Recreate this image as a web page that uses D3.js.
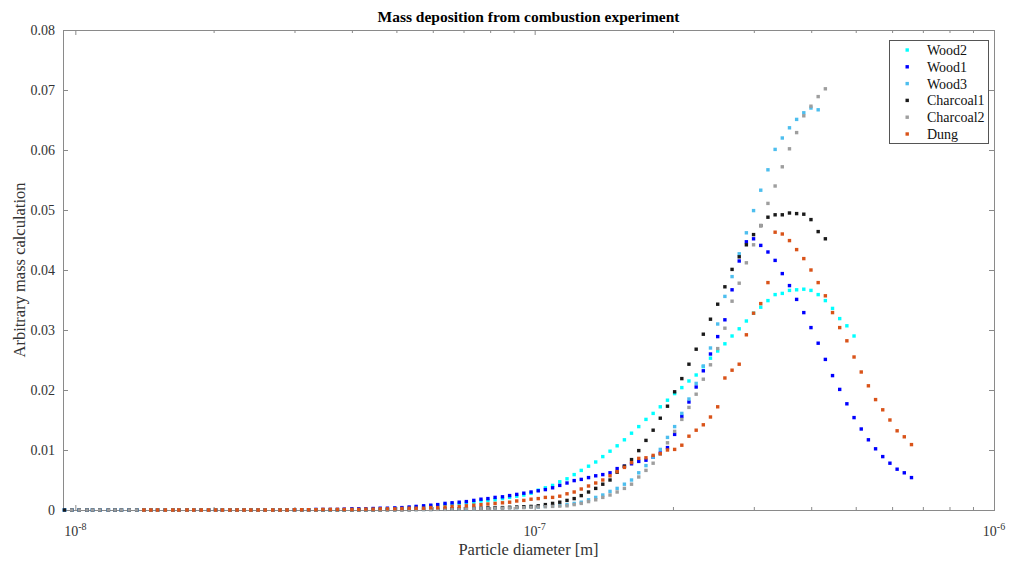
<!DOCTYPE html>
<html>
<head>
<meta charset="utf-8">
<script src="https://cdn.jsdelivr.net/npm/d3@7/dist/d3.min.js"></script>
<style>
  body { margin: 0; background: #fff; }
  svg text { font-family: "Liberation Serif", "Times New Roman", serif; }
</style>
</head>
<body>
<div id="chart"></div>
<script>
// bin mid diameters [nm], 64 channels per decade
const diameters = [
  9.47, 9.82, 10.2, 10.6, 10.9, 11.3, 11.8, 12.2, 12.6, 13.1,
  13.6, 14.1, 14.6, 15.1, 15.7, 16.3, 16.8, 17.5, 18.1, 18.8,
  19.5, 20.2, 20.9, 21.7, 22.5, 23.3, 24.1, 25.0, 25.9, 26.9,
  27.9, 28.9, 30.0, 31.1, 32.2, 33.4, 34.6, 35.9, 37.2, 38.5,
  40.0, 41.4, 42.9, 44.5, 46.1, 47.8, 49.6, 51.4, 53.3, 55.2,
  57.3, 59.4, 61.5, 63.8, 66.1, 68.5, 71.0, 73.7, 76.4, 79.1,
  82.0, 85.1, 88.2, 91.4, 94.7, 98.2, 101.8, 105.5, 109.4, 113.4,
  117.6, 121.9, 126.3, 131.0, 135.8, 140.7, 145.9, 151.2, 156.8, 162.5,
  168.5, 174.7, 181.1, 187.7, 194.6, 201.7, 209.1, 216.7, 224.7, 232.9,
  241.4, 250.3, 259.5, 269.0, 278.8, 289.0, 299.6, 310.6, 322.0, 333.8,
  346.0, 358.7, 371.8, 385.4, 399.5, 414.2, 429.4, 445.1, 461.4, 478.3,
  495.8, 514.0, 532.8, 552.3, 572.5, 593.5, 615.3, 637.8, 661.2
];

const wood2 = [
  0, 0, 0, 0, 0, 0, 0, 0, 0, 0,
  0, 0, 0, 0, 0, 0, 0, 0, 0, 0,
  0, 0, 0, 0, 0, 0, 0, 0, 0, 0,
  0, 0, 0, 0, 0, 0, 0, 0, 0, 0,
  0.0001, 0.0001, 0.0001, 0.00015, 0.0002, 0.0002, 0.00025, 0.0003, 0.0004, 0.0005,
  0.0006, 0.0007, 0.0008, 0.0009, 0.001, 0.0011, 0.0012, 0.0013, 0.0015, 0.0016,
  0.0017, 0.0019, 0.0021, 0.0023, 0.0025, 0.0028, 0.0033, 0.0037, 0.0041, 0.0047,
  0.0052, 0.0059, 0.0066, 0.0073, 0.008, 0.0089, 0.0098, 0.0107, 0.0117, 0.0128,
  0.0139, 0.0151, 0.0161, 0.0172, 0.0183, 0.0194, 0.0204, 0.0215, 0.0225, 0.0239,
  0.0253, 0.0265, 0.0277, 0.029, 0.0302, 0.0315, 0.0328, 0.0338, 0.0349, 0.0359,
  0.0361, 0.0366, 0.0367, 0.0368, 0.0366, 0.0359, 0.0349, 0.0336, 0.0319, 0.0307,
  0.029, null, null, null, null, null, null, null, null
];

const wood1 = [
  0, 0, 0, 0, 0, 0, 0, 0, 0, 0,
  0, 0, 0, 0, 0, 0, 0, 0, 0, 0,
  0, 0, 0, 0, 0, 0, 0, 0, 0, 0,
  0, 0, 0.00005, 0.00005, 0.00005, 0.0001, 0.0001, 0.0001, 0.0001, 0.00015,
  0.0002, 0.0002, 0.0002, 0.00025, 0.0003, 0.0003, 0.00035, 0.0004, 0.0005, 0.0006,
  0.0007, 0.0008, 0.0009, 0.0011, 0.0012, 0.0013, 0.0014, 0.0016, 0.0018, 0.0019,
  0.0021, 0.0022, 0.0024, 0.0026, 0.0028, 0.003, 0.0032, 0.0034, 0.0037, 0.0041,
  0.0045, 0.0049, 0.0051, 0.0054, 0.0057, 0.0059, 0.0062, 0.0069, 0.0073, 0.0077,
  0.0081, 0.0083, 0.0088, 0.0095, 0.0104, 0.0126, 0.0156, 0.018, 0.0205, 0.0232,
  0.026, 0.0289, 0.0317, 0.0367, 0.0415, 0.0447, 0.0452, 0.0441, 0.043, 0.0416,
  0.0394, 0.0374, 0.0351, 0.0329, 0.0304, 0.0278, 0.0251, 0.0224, 0.0201, 0.0177,
  0.0154, 0.0135, 0.0117, 0.0102, 0.0089, 0.0078, 0.0068, 0.0062, 0.0054
];

const wood3 = [
  0, 0, 0, 0, 0, 0, 0, 0, 0, 0,
  0, 0, 0, 0, 0, 0, 0, 0, 0, 0,
  0, 0, 0, 0, 0, 0, 0, 0, 0, 0,
  0, 0, 0, 0, 0, 0, 0, 0, 0, 0,
  0, 0, 0, 0, 0.00005, 0.00005, 0.00005, 0.0001, 0.0001, 0.0001,
  0.0001, 0.0001, 0.00015, 0.00015, 0.0002, 0.0002, 0.0002, 0.00025, 0.0003, 0.0003,
  0.0003, 0.00035, 0.0004, 0.0004, 0.00045, 0.0005, 0.0005, 0.0006, 0.0007, 0.0008,
  0.0009, 0.0011, 0.0013, 0.0017, 0.0021, 0.0025, 0.0031, 0.0036, 0.0043, 0.005,
  0.0062, 0.0074, 0.0088, 0.0101, 0.0121, 0.0139, 0.0161, 0.0185, 0.0211, 0.024,
  0.027, 0.031, 0.0356, 0.0389, 0.0427, 0.0462, 0.0499, 0.0533, 0.0567, 0.0601,
  0.062, 0.0637, 0.0651, 0.0662, 0.067, 0.0667, null, null, null, null,
  null, null, null, null, null, null, null, null, null
];

const charcoal1 = [
  0, 0, 0, 0, 0, 0, 0, 0, 0, 0,
  0, 0, 0, 0, 0, 0, 0, 0, 0, 0,
  0, 0, 0, 0, 0, 0, 0, 0, 0, 0,
  0, 0, 0, 0, 0, 0, 0, 0, 0, 0,
  0, 0, 0, 0, 0, 0.00005, 0.00005, 0.00005, 0.00005, 0.0001,
  0.0001, 0.0001, 0.00015, 0.00015, 0.0002, 0.0002, 0.00025, 0.0003, 0.0003, 0.00035,
  0.0004, 0.0004, 0.00045, 0.0005, 0.00055, 0.0006, 0.0007, 0.0009, 0.0011, 0.0013,
  0.0016, 0.0019, 0.0024, 0.003, 0.0036, 0.0043, 0.005, 0.0063, 0.0073, 0.0084,
  0.0099, 0.0116, 0.0133, 0.0153, 0.0173, 0.0197, 0.0219, 0.0243, 0.0268, 0.0293,
  0.0318, 0.0343, 0.0372, 0.0401, 0.0422, 0.0442, 0.0459, 0.0474, 0.0488, 0.0492,
  0.0492, 0.0495, 0.0494, 0.0493, 0.0484, 0.0464, 0.0452, null, null, null,
  null, null, null, null, null, null, null, null, null
];

const charcoal2 = [
  null, 0, 0, 0, 0, 0, 0, 0, 0, 0,
  0, 0, 0, 0, 0, 0, 0, 0, 0, 0,
  0, 0, 0, 0, 0, 0, 0, 0, 0, 0,
  0, 0, 0, 0, 0, 0, 0, 0, 0, 0,
  0, 0, 0, 0, 0, 0, 0.00005, 0.00005, 0.00005, 0.00005,
  0.0001, 0.0001, 0.0001, 0.0001, 0.00015, 0.00015, 0.0002, 0.0002, 0.00025, 0.00025,
  0.0003, 0.0003, 0.00035, 0.0004, 0.0004, 0.00045, 0.0005, 0.00055, 0.0006, 0.00065,
  0.0007, 0.0009, 0.0011, 0.0014, 0.0017, 0.0021, 0.0025, 0.003, 0.0036, 0.0043,
  0.0055, 0.0066, 0.0078, 0.0093, 0.0112, 0.0131, 0.0151, 0.0171, 0.0193, 0.0218,
  0.0242, 0.0269, 0.0303, 0.0348, 0.0378, 0.0412, 0.0442, 0.0474, 0.0511, 0.054,
  0.0572, 0.0602, 0.0629, 0.0657, 0.0673, 0.0689, 0.0702, null, null, null,
  null, null, null, null, null, null, null, null, null
];

const dung = [
  null, null, null, null, null, null, null, null, null, null,
  null, 0, 0, 0, 0, 0, 0, 0, 0, 0,
  0, 0, 0, 0, 0, 0, 0, 0, 0, 0,
  0, 0, 0.00005, 0.00005, 0.00005, 0.00005, 0.0001, 0.0001, 0.0001, 0.0001,
  0.0001, 0.0001, 0.00015, 0.00015, 0.0002, 0.0002, 0.0002, 0.00025, 0.0003, 0.0003,
  0.0003, 0.0004, 0.0004, 0.0005, 0.0006, 0.0006, 0.0007, 0.0008, 0.0009, 0.001,
  0.0011, 0.0012, 0.0013, 0.0015, 0.0016, 0.0018, 0.0019, 0.0021, 0.0021, 0.0023,
  0.0027, 0.003, 0.0035, 0.004, 0.0045, 0.005, 0.0057, 0.0064, 0.0071, 0.0079,
  0.0086, 0.0087, 0.0091, 0.0094, 0.01, 0.0101, 0.0108, 0.0123, 0.0133, 0.0142,
  0.0155, 0.0172, 0.022, 0.0233, 0.0243, 0.0292, 0.0328, 0.0344, 0.0379, 0.0463,
  0.046, 0.0449, 0.0434, 0.0419, 0.04, 0.0379, 0.0357, 0.0329, 0.0304, 0.0282,
  0.0255, 0.023, 0.0207, 0.0184, 0.0167, 0.015, 0.0132, 0.0122, 0.0109
];

const seriesNames = ["Wood2", "Wood1", "Wood3", "Charcoal1", "Charcoal2", "Dung"];
const seriesValues = [wood2, wood1, wood3, charcoal1, charcoal2, dung];
const seriesColors = ["#00ffff", "#0000ff", "#4dbeee", "#1a1a1a", "#9e9e9e", "#d95319"];

const yTicks = [0, 0.01, 0.02, 0.03, 0.04, 0.05, 0.06, 0.07, 0.08];
const xMajorTicks = [1e-8, 1e-7, 1e-6];
const xTickExponents = ["-8", "-7", "-6"];

const width = 1010, height = 561;
const plotLeft = 63, plotRight = 994, plotTop = 30, plotBottom = 510;
const axisColor = "#8a8a8a";
const textColor = "#333";

const svg = d3.select("#chart")
  .append("svg")
  .attr("width", width)
  .attr("height", height);

const x = d3.scaleLog().domain([9.4e-9, 1e-6]).range([plotLeft, plotRight]);
const y = d3.scaleLinear().domain([0, 0.08]).range([plotBottom, plotTop]);

const xMinorTicks = x.ticks().filter(t => !xMajorTicks.some(m => Math.abs(t - m) / m < 1e-6));

// ticks point inwards on all four sides
function styleAxis(g) {
  g.select(".domain").remove();
  g.selectAll("line").attr("stroke", axisColor);
}

svg.append("g").attr("transform", `translate(0,${plotBottom})`)
  .call(d3.axisBottom(x).tickValues(xMajorTicks).tickSize(-5).tickFormat(""))
  .call(styleAxis);
svg.append("g").attr("transform", `translate(0,${plotBottom})`)
  .call(d3.axisBottom(x).tickValues(xMinorTicks).tickSize(-3).tickFormat(""))
  .call(styleAxis);
svg.append("g").attr("transform", `translate(0,${plotTop})`)
  .call(d3.axisTop(x).tickValues(xMajorTicks).tickSize(-5).tickFormat(""))
  .call(styleAxis);
svg.append("g").attr("transform", `translate(0,${plotTop})`)
  .call(d3.axisTop(x).tickValues(xMinorTicks).tickSize(-3).tickFormat(""))
  .call(styleAxis);

const yAxis = svg.append("g").attr("transform", `translate(${plotLeft},0)`)
  .call(d3.axisLeft(y).tickValues(yTicks).tickSize(-5).tickPadding(8)
    .tickFormat(d => d === 0 ? "0" : d3.format(".2f")(d)))
  .call(styleAxis);
yAxis.selectAll("text")
  .attr("fill", textColor)
  .style("font-size", "14px")
  .style("font-family", "'Liberation Serif', serif");

svg.append("g").attr("transform", `translate(${plotRight},0)`)
  .call(d3.axisRight(y).tickValues(yTicks).tickSize(-5).tickFormat(""))
  .call(styleAxis);

// box
svg.append("rect")
  .attr("x", plotLeft + 0.5).attr("y", plotTop + 0.5)
  .attr("width", plotRight - plotLeft).attr("height", plotBottom - plotTop)
  .attr("fill", "none").attr("stroke", axisColor);

// x tick labels 10^n
const xLab = svg.append("g");
xMajorTicks.forEach((t, i) => {
  const tx = xLab.append("text")
    .attr("x", x(t)).attr("y", plotBottom + 26)
    .attr("text-anchor", "middle")
    .attr("fill", textColor)
    .style("font-size", "14px");
  tx.append("tspan").text("10");
  tx.append("tspan").attr("dy", -6).style("font-size", "10px").text(xTickExponents[i]);
});

// points
seriesValues.forEach((vals, s) => {
  const pts = diameters.map((d, i) => ({ d: d * 1e-9, v: vals[i] })).filter(p => p.v !== null);
  svg.append("g")
    .selectAll("rect")
    .data(pts)
    .enter()
    .append("rect")
    .attr("x", p => x(p.d) - 1.7)
    .attr("y", p => y(p.v) - 1.7)
    .attr("width", 3.4)
    .attr("height", 3.4)
    .attr("fill", seriesColors[s]);
});

// title and axis labels
svg.append("text")
  .attr("x", (plotLeft + plotRight) / 2).attr("y", 22)
  .attr("text-anchor", "middle")
  .style("font-size", "15.5px").style("font-weight", "bold")
  .attr("fill", "#000")
  .text("Mass deposition from combustion experiment");

svg.append("text")
  .attr("x", (plotLeft + plotRight) / 2).attr("y", 555)
  .attr("text-anchor", "middle")
  .style("font-size", "16.5px")
  .attr("fill", textColor)
  .text("Particle diameter [m]");

svg.append("text")
  .attr("transform", `translate(25,${(plotTop + plotBottom) / 2}) rotate(-90)`)
  .attr("text-anchor", "middle")
  .style("font-size", "16.5px")
  .attr("fill", textColor)
  .text("Arbitrary mass calculation");

// legend
const legend = svg.append("g");
legend.append("rect")
  .attr("x", 889.5).attr("y", 40.5)
  .attr("width", 99).attr("height", 103)
  .attr("fill", "#fff").attr("stroke", "#555");
seriesNames.forEach((name, i) => {
  const ly = 50 + i * 16.8;
  legend.append("rect")
    .attr("x", 905.5).attr("y", ly - 1.7)
    .attr("width", 3.4).attr("height", 3.4)
    .attr("fill", seriesColors[i]);
  legend.append("text")
    .attr("x", 927).attr("y", ly + 5)
    .attr("fill", "#111")
    .style("font-size", "14px")
    .text(name);
});
</script>
</body>
</html>
